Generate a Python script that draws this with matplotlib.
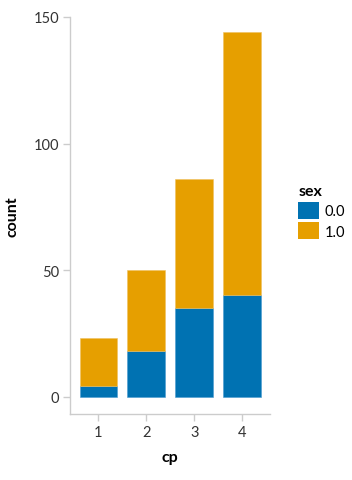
import matplotlib
matplotlib.use("Agg")
import matplotlib.pyplot as plt
from matplotlib.patches import Patch
import numpy as np

cp = [1, 2, 3, 4]
sex_labels = ["0.0", "1.0"]
count_sex0 = [4, 18, 35, 40]
count_sex1 = [19, 32, 51, 104]
colors = ["#0072B2", "#E69F00"]

plt.rcParams['font.family'] = ['Lato', 'DejaVu Sans']

W, H = 352, 481
fig = plt.figure(figsize=(W/100, H/100), dpi=100)
ax = fig.add_axes([70/W, 1-415/H, 200/W, (415-18)/H])

x = np.array(cp)
ax.bar(x, count_sex0, width=0.79, color=colors[0], edgecolor="#4a9bd0", linewidth=0.4)
ax.bar(x, count_sex1, width=0.79, bottom=count_sex0, color=colors[1], edgecolor="#f0c060", linewidth=0.4)

ax.set_ylim(-6.9, 150)
ax.set_xlim(0.406, 4.58)
ax.set_xticks(cp)
ax.set_xticklabels([str(c) for c in cp])
ax.set_yticks([0, 50, 100, 150])

for s in ["top", "right"]:
    ax.spines[s].set_visible(False)
for s in ["left", "bottom"]:
    ax.spines[s].set_color("#cccccc")
    ax.spines[s].set_linewidth(1)
ax.tick_params(axis="both", colors="#cccccc", labelcolor="#333333", labelsize=10.5, length=5, width=1, pad=3)

ax.set_xlabel("cp", fontsize=11.5, fontweight="bold", labelpad=8)
ax.set_ylabel("count", fontsize=11.5, fontweight="bold", labelpad=10)

handles = [Patch(facecolor=c, edgecolor="none") for c in colors]
leg = fig.legend(handles, sex_labels, title="sex", loc="upper left",
                 bbox_to_anchor=(285/W, 1-172/H), frameon=False,
                 fontsize=10.5, title_fontproperties={"weight": "bold", "size": 11.5},
                 handlelength=1.4, handleheight=1.4, handletextpad=0.4,
                 labelspacing=0.25, alignment="left")

fig.savefig("out.png", dpi=100)
